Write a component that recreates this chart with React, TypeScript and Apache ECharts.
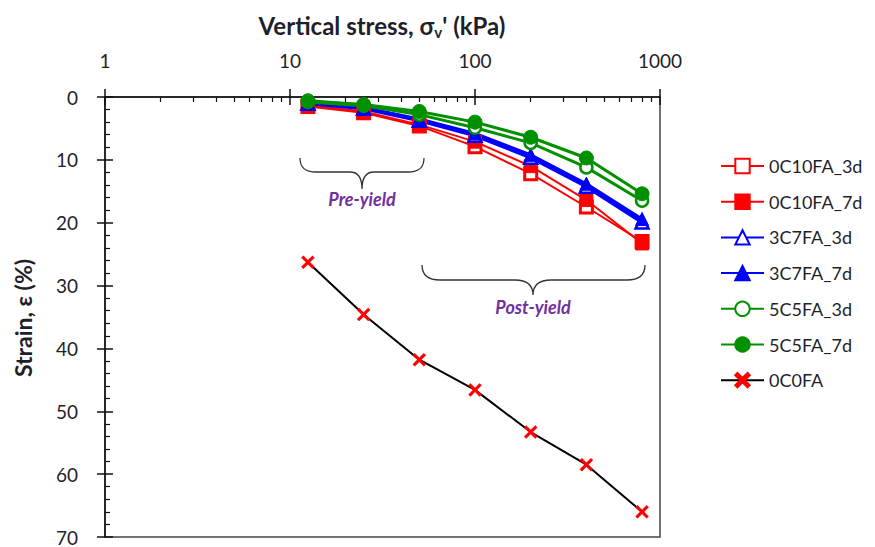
import React, { useEffect, useRef } from "react";
import * as echarts from "echarts";

const stress = [12.5, 25, 50, 100, 200, 400, 800];
const s0C10FA_3d = [1.5, 2.5, 4.6, 7.9, 12.2, 17.5, 23.0];
const s0C10FA_7d = [1.3, 2.3, 4.4, 7.1, 11.0, 16.4, 23.3];
const s3C7FA_3d = [1.0, 1.8, 3.7, 6.1, 9.6, 14.2, 19.9];
const s3C7FA_7d = [0.9, 1.7, 3.5, 5.8, 9.2, 13.8, 19.4];
const s5C5FA_3d = [0.8, 1.4, 2.8, 4.9, 7.3, 11.2, 16.5];
const s5C5FA_7d = [0.6, 1.2, 2.3, 4.0, 6.4, 9.7, 15.4];
const s0C0FA = [26.3, 34.6, 41.8, 46.6, 53.3, 58.5, 66.0];

const xMajor = [1, 10, 100, 1000];
const xMinor = [2, 3, 4, 5, 6, 7, 8, 9, 20, 30, 40, 50, 60, 70, 80, 90, 200, 300, 400, 500, 600, 700, 800, 900];
const yMinor = [2, 4, 6, 8, 12, 14, 16, 18, 22, 24, 26, 28, 32, 34, 36, 38, 42, 44, 46, 48, 52, 54, 56, 58, 62, 64, 66, 68];

const FONT = "Lato, 'Open Sans', sans-serif";
const TXT = "#1f1f2a";

const X_PATH = "path://M0,1.5 L1.5,0 L5,3.5 L8.5,0 L10,1.5 L6.5,5 L10,8.5 L8.5,10 L5,6.5 L1.5,10 L0,8.5 L3.5,5 Z";

echarts.graphic.registerShape(
  "preBrace",
  echarts.graphic.extendPath(
    "M300,158 C300,168 305,172 316,172 L350,172 C357,172 362,176 362,189 C362,176 367,172 374,172 L408,172 C419,172 424,168 424,158",
    {}
  )
);
echarts.graphic.registerShape(
  "postBrace",
  echarts.graphic.extendPath(
    "M422,265 C422,275 428,280 440,280 L515,280 C526,280 533,284 533,295 C533,284 540,280 551,280 L627,280 C639,280 645,275 645,265",
    {}
  )
);

function pairs(vals: number[]) {
  return stress.map((x, i) => [x, vals[i]]);
}

export default function App() {
  const ref = useRef<HTMLDivElement>(null);
  useEffect(() => {
    if (!ref.current) return;
    const chart = echarts.init(ref.current, null, { renderer: "svg" });
    const axisLine = { show: true, lineStyle: { color: "#111", width: 1.5 } };
    const baseX = {
      type: "log" as const,
      logBase: 10,
      position: "top" as const,
      min: 1,
      max: 1000,
      splitLine: { show: false },
    };
    const baseY = {
      type: "value" as const,
      inverse: true,
      min: 0,
      max: 70,
      interval: 10,
      position: "left" as const,
      splitLine: { show: false },
    };
    const red = "#FF0000";
    const blue = "#0000FF";
    const green = "#009000";
    const option: any = {
      animation: false,
      backgroundColor: "#fff",
      grid: {
        left: 105,
        right: 215,
        top: 97,
        bottom: 10,
        show: true,
        borderColor: "#444",
        borderWidth: 1.5,
        backgroundColor: "transparent",
      },
      legend: {
        orient: "vertical",
        left: 715,
        top: 152,
        itemWidth: 43,
        itemHeight: 18,
        itemGap: 17.7,
        textStyle: { fontFamily: FONT, fontSize: 18, color: TXT },
        data: ["0C10FA_3d", "0C10FA_7d", "3C7FA_3d", "3C7FA_7d", "5C5FA_3d", "5C5FA_7d", "0C0FA"],
      },
      xAxis: [
        {
          ...baseX,
          axisLine,
          axisTick: { show: true, inside: false, length: 8, lineStyle: { color: "#111", width: 1.5 } },
          axisLabel: {
            show: true,
            margin: 27,
            fontFamily: FONT,
            fontSize: 19,
            color: TXT,
            customValues: xMajor,
            formatter: (v: number) => String(Math.round(v)),
          },
        },
        {
          ...baseX,
          axisLine: { show: false },
          axisTick: { show: true, inside: true, length: 8, lineStyle: { color: "#111", width: 1.5 } },
          axisLabel: { show: false },
        },
        {
          ...baseX,
          axisLine: { show: false },
          axisTick: {
            show: true,
            inside: true,
            length: 5,
            customValues: xMinor,
            lineStyle: { color: "#111", width: 1.2 },
          },
          axisLabel: { show: false },
        },
      ],
      yAxis: [
        {
          ...baseY,
          axisLine,
          axisTick: { show: true, inside: false, length: 8, lineStyle: { color: "#111", width: 1.5 } },
          axisLabel: { show: true, margin: 27, fontFamily: FONT, fontSize: 19, color: TXT },
        },
        {
          ...baseY,
          axisLine: { show: false },
          axisTick: { show: true, inside: true, length: 8, lineStyle: { color: "#111", width: 1.5 } },
          axisLabel: { show: false },
        },
        {
          ...baseY,
          axisLine: { show: false },
          axisTick: {
            show: true,
            inside: true,
            length: 5,
            customValues: yMinor,
            lineStyle: { color: "#111", width: 1.2 },
          },
          axisLabel: { show: false },
        },
      ],
      series: [
        {
          name: "0C10FA_3d",
          type: "line",
          data: pairs(s0C10FA_3d),
          symbol: "rect",
          symbolSize: 12,
          lineStyle: { color: red, width: 2 },
          itemStyle: { color: "#fff", borderColor: red, borderWidth: 3 },
        },
        {
          name: "0C10FA_7d",
          type: "line",
          data: pairs(s0C10FA_7d),
          symbol: "rect",
          symbolSize: 13,
          lineStyle: { color: red, width: 2 },
          itemStyle: { color: red, borderColor: red, borderWidth: 1 },
        },
        {
          name: "3C7FA_3d",
          type: "line",
          data: pairs(s3C7FA_3d),
          symbol: "triangle",
          symbolSize: 13,
          lineStyle: { color: blue, width: 4 },
          itemStyle: { color: "#fff", borderColor: blue, borderWidth: 2.5 },
        },
        {
          name: "3C7FA_7d",
          type: "line",
          data: pairs(s3C7FA_7d),
          symbol: "triangle",
          symbolSize: 13,
          lineStyle: { color: blue, width: 3 },
          itemStyle: { color: blue, borderColor: blue, borderWidth: 1 },
        },
        {
          name: "5C5FA_3d",
          type: "line",
          data: pairs(s5C5FA_3d),
          symbol: "circle",
          symbolSize: 12,
          lineStyle: { color: green, width: 3 },
          itemStyle: { color: "#fff", borderColor: green, borderWidth: 2.5 },
        },
        {
          name: "5C5FA_7d",
          type: "line",
          data: pairs(s5C5FA_7d),
          symbol: "circle",
          symbolSize: 14,
          lineStyle: { color: green, width: 3 },
          itemStyle: { color: green, borderColor: green, borderWidth: 1 },
        },
        {
          name: "0C0FA",
          type: "line",
          data: pairs(s0C0FA),
          symbol: X_PATH,
          symbolSize: 13,
          lineStyle: { color: "#000", width: 2 },
          itemStyle: { color: red, borderColor: red, borderWidth: 0.5 },
        },
      ],
      graphic: [
        {
          type: "text",
          x: 382,
          y: 25,
          style: {
            text: "{a|Vertical stress, σ}{s|v}{a|' (kPa)}",
            align: "center",
            verticalAlign: "middle",
            rich: {
              a: { fontFamily: FONT, fontSize: 24, fontWeight: "bold", fill: TXT, color: TXT },
              s: { fontFamily: FONT, fontSize: 15, fontWeight: "bold", fill: TXT, color: TXT, padding: [14, 0, 0, 0] },
            },
          },
        },
        {
          type: "text",
          x: 23,
          y: 318,
          rotation: Math.PI / 2,
          style: {
            text: "Strain, ε (%)",
            font: "bold 23px Lato, 'Open Sans', sans-serif",
            fontFamily: FONT,
            fontSize: 23,
            fontWeight: "bold",
            fill: TXT,
            align: "center",
            verticalAlign: "middle",
          },
        },
        { type: "preBrace", style: { fill: "none", stroke: "#333", lineWidth: 1.3 }, z: 10 },
        { type: "postBrace", style: { fill: "none", stroke: "#333", lineWidth: 1.3 }, z: 10 },
        {
          type: "text",
          x: 362,
          y: 199,
          z: 10,
          style: {
            text: "Pre-yield",
            fill: "#7030A0",
            fontFamily: FONT,
            fontSize: 18,
            fontStyle: "italic",
            fontWeight: "bold",
            align: "center",
            verticalAlign: "middle",
          },
        },
        {
          type: "text",
          x: 533,
          y: 307,
          z: 10,
          style: {
            text: "Post-yield",
            fill: "#7030A0",
            fontFamily: FONT,
            fontSize: 18,
            fontStyle: "italic",
            fontWeight: "bold",
            align: "center",
            verticalAlign: "middle",
          },
        },
      ],
    };
    chart.setOption(option);
    return () => chart.dispose();
  }, []);
  return (
    <div
      ref={ref}
      style={{ position: "fixed", left: 0, top: 0, width: 875, height: 547, background: "#fff" }}
    />
  );
}
